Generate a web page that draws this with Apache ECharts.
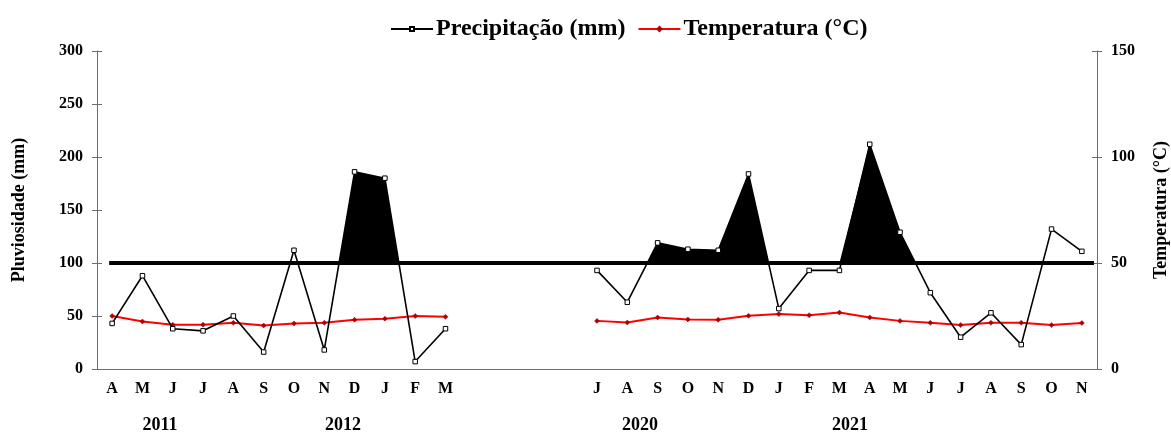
<!DOCTYPE html>
<html>
<head>
<meta charset="utf-8">
<script src="https://cdn.jsdelivr.net/npm/echarts@6/dist/echarts.min.js"></script>
<style>
html,body{margin:0;padding:0;background:#fff;}
#chart{width:1171px;height:434px;}
</style>
</head>
<body>
<div id="chart"></div>
<script>
// ---- data ----
var months2011 = ['A','M','J','J','A','S','O','N','D','J','F','M'];
var gapCats = ['', '', '', ''];
var months2020 = ['J','A','S','O','N','D','J','F','M','A','M','J','J','A','S','O','N'];
var precip2011 = [43, 88, 38, 36, 50, 16, 112, 18, 186, 180, 7, 38];
var precip2020 = [93, 63, 119, 113, 112, 184, 57, 93, 93, 212, 129, 72, 30, 53, 23, 132, 111];
var temp2011 = [25, 22.4, 20.9, 20.9, 21.8, 20.5, 21.5, 21.8, 23.2, 23.7, 25, 24.6];
var temp2020 = [22.7, 21.9, 24.3, 23.4, 23.2, 25.1, 25.9, 25.4, 26.6, 24.3, 22.7, 21.8, 20.7, 21.8, 21.8, 20.7, 21.7];
// months whose surplus above the reference is shaded black (1 = shaded)
var shaded2011 = [0, 0, 0, 0, 0, 0, 0, 0, 1, 1, 0, 0];
var shaded2020 = [0, 0, 1, 1, 1, 1, 0, 0, 0, 1, 1, 0, 0, 0, 0, 0, 0];
var yearLabels = ['2011', '2012', '2020', '2021'];
var refValue = 100;
var refLineExtent = [-0.1, 32.4];
var leftTicks = [0, 300, 50];
var rightTicks = [0, 150, 50];

// ---- build ----
var cats = months2011.concat(gapCats, months2020);
var gapNulls = gapCats.map(function(){ return null; });
var gapZeros = gapCats.map(function(){ return 0; });
var precip = precip2011.concat(gapNulls, precip2020);
var temp = temp2011.concat(gapNulls, temp2020);
var shaded = shaded2011.concat(gapZeros, shaded2020);

// area between precipitation line and reference value, for the shaded months
var fill = [];
for (var i = 0; i < precip.length; i++) {
  var p = precip[i];
  if (p == null) { fill.push([i, refValue]); continue; }
  fill.push([i, shaded[i] ? Math.max(p, refValue) : refValue]);
  var q = precip[i + 1];
  if (q != null && (shaded[i] || shaded[i + 1]) && (p - refValue) * (q - refValue) < 0) {
    var t = (refValue - p) / (q - p);
    fill.push([i + t, refValue]);
  }
}

var FONT = 'Liberation Serif';
var axisColor = '#6e6e6e';
var chart = echarts.init(document.getElementById('chart'));
function yearText(x, s) {
  return { type: 'text', x: x, y: 425, style: { text: s, font: 'bold 18px "Liberation Serif"', fill: '#000', align: 'center', verticalAlign: 'middle' } };
}
var option = {
  animation: false,
  backgroundColor: '#fff',
  textStyle: { fontFamily: FONT },
  legend: {
    left: 385, top: 12,
    itemWidth: 42, itemHeight: 5, itemGap: 12,
    textStyle: { fontFamily: FONT, fontWeight: 'bold', fontSize: 24, color: '#000', padding: [0, 0, 0, -2] },
    data: ['Precipitação (mm)', 'Temperatura (°C)']
  },
  grid: { left: 97, right: 74, top: 51, bottom: 65, containLabel: false, outerBoundsMode: 'none' },
  xAxis: [
    { type: 'category', data: cats, boundaryGap: true, position: 'bottom',
      axisLine: { onZero: false, lineStyle: { color: axisColor, width: 1 } },
      axisTick: { interval: 0, length: 4, lineStyle: { color: axisColor } },
      axisLabel: { interval: 0, margin: 12, color: '#000', fontFamily: FONT, fontWeight: 'bold', fontSize: 16 },
      splitLine: { show: false } },
    { type: 'value', min: -0.5, max: 32.5, show: false },
    { type: 'category', data: cats, boundaryGap: true, position: 'bottom',
      axisLine: { show: false, onZero: false },
      axisTick: { interval: 0, inside: true, length: 4, lineStyle: { color: axisColor } },
      axisLabel: { show: false }, splitLine: { show: false } }
  ],
  yAxis: [
    { type: 'value', min: leftTicks[0], max: leftTicks[1], interval: leftTicks[2], position: 'left',
      name: 'Pluviosidade (mm)', nameLocation: 'middle', nameRotate: 90, nameGap: 69,
      nameTextStyle: { fontFamily: FONT, fontWeight: 'bold', fontSize: 18, color: '#000' },
      axisLine: { show: true, onZero: false, lineStyle: { color: axisColor } },
      axisTick: { show: true, length: 5, lineStyle: { color: axisColor } },
      axisLabel: { margin: 14, color: '#000', fontFamily: FONT, fontWeight: 'bold', fontSize: 16 },
      splitLine: { show: false } },
    { type: 'value', min: rightTicks[0], max: rightTicks[1], interval: rightTicks[2], position: 'right',
      name: 'Temperatura (°C)', nameLocation: 'middle', nameRotate: 90, nameGap: 55,
      nameTextStyle: { fontFamily: FONT, fontWeight: 'bold', fontSize: 18, color: '#000' },
      axisLine: { show: true, onZero: false, lineStyle: { color: axisColor } },
      axisTick: { show: true, length: 5, lineStyle: { color: axisColor } },
      axisLabel: { margin: 14, color: '#000', fontFamily: FONT, fontWeight: 'bold', fontSize: 16 },
      splitLine: { show: false } },
    { type: 'value', min: leftTicks[0], max: leftTicks[1], interval: leftTicks[2], position: 'left',
      axisLine: { show: false, onZero: false }, axisLabel: { show: false }, splitLine: { show: false },
      axisTick: { show: true, inside: true, length: 5, lineStyle: { color: axisColor } } },
    { type: 'value', min: rightTicks[0], max: rightTicks[1], interval: rightTicks[2], position: 'right',
      axisLine: { show: false, onZero: false }, axisLabel: { show: false }, splitLine: { show: false },
      axisTick: { show: true, inside: true, length: 5, lineStyle: { color: axisColor } } }
  ],
  series: [
    { name: 'fill', type: 'line', xAxisIndex: 1, yAxisIndex: 0, data: fill,
      symbol: 'none', lineStyle: { width: 0, color: '#000' },
      areaStyle: { color: '#000', opacity: 1, origin: refValue }, z: 1, silent: true },
    { name: 'ref', type: 'line', xAxisIndex: 1, yAxisIndex: 0,
      data: [[refLineExtent[0], refValue], [refLineExtent[1], refValue]],
      symbol: 'none', lineStyle: { width: 4, color: '#000' }, z: 2, silent: true },
    { name: 'Precipitação (mm)', type: 'line', xAxisIndex: 0, yAxisIndex: 0, data: precip,
      connectNulls: false, symbol: 'rect', symbolSize: 4.5, showAllSymbol: true,
      itemStyle: { color: '#fff', borderColor: '#000', borderWidth: 1 },
      lineStyle: { color: '#000', width: 1.6 }, z: 4 },
    { name: 'Temperatura (°C)', type: 'line', xAxisIndex: 0, yAxisIndex: 1, data: temp,
      connectNulls: false, symbol: 'diamond', symbolSize: 5, showAllSymbol: true,
      itemStyle: { color: '#b00000', borderColor: '#b00000', borderWidth: 0.5 },
      lineStyle: { color: '#ff0000', width: 2 }, z: 3 }
  ],
  graphic: [
    yearText(160, yearLabels[0]),
    yearText(343, yearLabels[1]),
    yearText(640, yearLabels[2]),
    yearText(850, yearLabels[3])
  ]
};
chart.setOption(option);
</script>
</body>
</html>
